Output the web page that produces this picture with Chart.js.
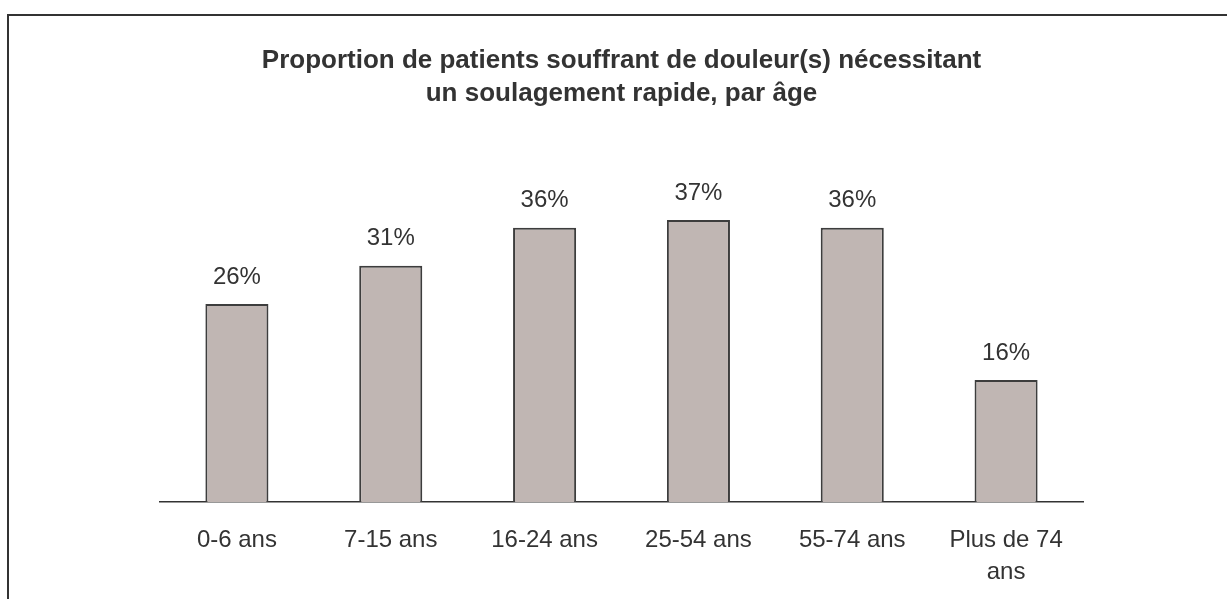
<!DOCTYPE html>
<html>
<head>
<meta charset="utf-8">
<script src="https://cdn.jsdelivr.net/npm/chart.js@4.4.0/dist/chart.umd.min.js"></script>
<style>
  html, body { margin: 0; padding: 0; background: #fff; }
  #wrap { width: 1227px; height: 599px; position: relative; }
</style>
</head>
<body>
<div id="wrap"><canvas id="ageChart" width="1227" height="599"></canvas></div>
<script>
'use strict';
var ageGroups = [['0-6 ans'], ['7-15 ans'], ['16-24 ans'], ['25-54 ans'], ['55-74 ans'], ['Plus de 74', 'ans']];
var painShare = [26, 31, 36, 37, 36, 16];
var titleLines = ['Proportion de patients souffrant de douleur(s) nécessitant', 'un soulagement rapide, par âge'];

// frame round the whole chart, cut off at the bottom and right like the original
var framePlugin = {
  id: 'frame',
  beforeDraw: function(chart) {
    var ctx = chart.ctx;
    ctx.save();
    ctx.fillStyle = '#fff';
    ctx.fillRect(0, 0, chart.width, chart.height);
    ctx.strokeStyle = '#333';
    ctx.lineWidth = 2;
    ctx.strokeRect(8, 15, 1240, 700);
    ctx.restore();
  }
};

// percent above each bar
var valueLabels = {
  id: 'valueLabels',
  afterDatasetsDraw: function(chart) {
    var ctx = chart.ctx;
    var meta = chart.getDatasetMeta(0);
    ctx.save();
    ctx.font = '24px "Liberation Sans", Arial, sans-serif';
    ctx.fillStyle = '#333';
    ctx.textAlign = 'center';
    ctx.textBaseline = 'middle';
    meta.data.forEach(function(bar, i) {
      ctx.fillText(painShare[i] + '%', bar.x, bar.y - 27);
    });
    ctx.restore();
  }
};

var ctx = document.getElementById('ageChart').getContext('2d');
var chart = new Chart(ctx, {
  type: 'bar',
  data: {
    labels: ageGroups,
    datasets: [{
      data: painShare,
      backgroundColor: '#c0b6b3',
      borderColor: '#3d3d3d',
      borderWidth: 2,
      categoryPercentage: 1,
      barPercentage: 0.41
    }]
  },
  options: {
    responsive: false,
    animation: false,
    layout: { padding: { left: 160, right: 144, top: 8, bottom: 11 } },
    plugins: {
      legend: { display: false },
      tooltip: { enabled: false },
      title: {
        display: true,
        text: titleLines,
        color: '#333',
        font: { family: '"Liberation Sans", Arial, sans-serif', size: 26, weight: 'bold', lineHeight: 1.27 },
        padding: { top: 36, bottom: 11 }
      }
    },
    scales: {
      x: {
        grid: { display: false, drawTicks: false },
        border: { display: true, color: '#333', width: 1.5 },
        ticks: {
          color: '#333',
          font: { family: '"Liberation Sans", Arial, sans-serif', size: 24, lineHeight: 1.33 },
          padding: 22,
          maxRotation: 0
        },
        afterFit: function(scale) { scale.height = 86; }
      },
      y: {
        display: false,
        min: 0,
        max: 50
      }
    }
  },
  plugins: [framePlugin, valueLabels]
});
</script>
</body>
</html>
